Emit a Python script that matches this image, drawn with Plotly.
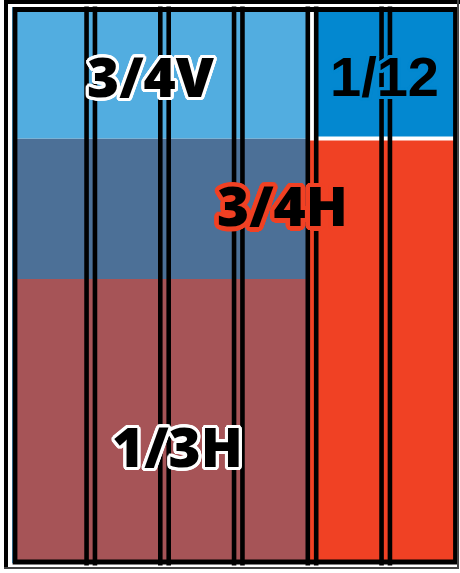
import math
import plotly.graph_objects as go

# ---------------- data ----------------
n_columns = 6
n_rows = 4

region_names = ["1/3H lower", "3/4H band", "3/4V top", "3/4H right", "1/12 top"]
region_col_start = [0, 0, 0, 4, 4]
region_col_span = [4, 4, 4, 2, 2]
region_row_start = [0, 2, 3, 0, 3]
region_row_span = [2, 1, 1, 3, 1]

label_text = ["3/4V", "1/12", "3/4H", "1/3H"]

# ---------------- styles ----------------
region_colors = ["#A65457", "#4C7097", "#52ADE0", "#F04124", "#0388D0"]
region_line_colors = ["#A65457", "#4C7097", "#52ADE0", "#F04124", "#FFFFFF"]
region_line_widths = [0, 0, 0, 4, 4]

label_x = [1.82, 4.98, 3.60, 2.17]
label_y = [3.445, 3.44, 2.53, 0.815]
label_outline = ["#FFFFFF", "#0388D0", "#F04124", "#FFFFFF"]
label_outline_r = [3, 3, 4.5, 3]
label_family = ["Open Sans", "Liberation Sans", "Open Sans", "Open Sans"]
label_size = [55, 56, 55, 55]
label_weight = [800, 700, 800, 800]

W, H = 460, 573
ml, mr, mt, mb = 17, 6, 12, 13
px_per_col = 73.75
px_per_row = 140.5
plot_w = W - ml - mr
plot_h = H - mt - mb


def outline(color, r, n=24):
    parts = []
    for i in range(n):
        a = 2 * math.pi * i / n
        parts.append(f"{color} {r*math.cos(a):.2f}px {r*math.sin(a):.2f}px 0px")
    return ", ".join(parts)


fig = go.Figure()
for i, name in enumerate(region_names):
    fig.add_trace(go.Bar(
        name=name,
        x=[region_col_start[i] + region_col_span[i] / 2],
        y=[region_row_span[i]],
        base=[region_row_start[i]],
        width=[region_col_span[i]],
        marker=dict(color=region_colors[i],
                    line=dict(color=region_line_colors[i], width=region_line_widths[i])),
        hoverinfo="skip",
        showlegend=False,
    ))

shapes = []
# column dividers (double black lines)
d = 4.2 / px_per_col
for k in range(1, n_columns):
    for off in (-d, d):
        shapes.append(dict(type="line", xref="x", yref="paper",
                           x0=k + off, x1=k + off, y0=-0.01, y1=1.01,
                           line=dict(color="black", width=4.6)))


def px2paper_x(p):
    return (p - ml) / plot_w


def px2paper_y(p):
    return (H - mb - p) / plot_h


# thin light-blue sliver at left
shapes.append(dict(type="line", xref="paper", yref="paper",
                   x0=px2paper_x(12.5), x1=px2paper_x(12.5),
                   y0=px2paper_y(7), y1=px2paper_y(563),
                   line=dict(color="#52ADE0", width=1)))
# inner frame
shapes.append(dict(type="rect", xref="paper", yref="paper",
                   x0=px2paper_x(15), x1=px2paper_x(455.5),
                   y0=px2paper_y(562), y1=px2paper_y(9.5),
                   line=dict(color="black", width=4.8)))
# outer frame
shapes.append(dict(type="line", xref="paper", yref="paper",
                   x0=px2paper_x(4), x1=px2paper_x(460), y0=px2paper_y(2), y1=px2paper_y(2),
                   line=dict(color="black", width=4)))
shapes.append(dict(type="line", xref="paper", yref="paper",
                   x0=px2paper_x(6), x1=px2paper_x(6), y0=px2paper_y(0), y1=px2paper_y(569),
                   line=dict(color="black", width=4)))
shapes.append(dict(type="line", xref="paper", yref="paper",
                   x0=px2paper_x(458), x1=px2paper_x(458), y0=px2paper_y(0), y1=px2paper_y(569),
                   line=dict(color="#444444", width=2)))
shapes.append(dict(type="line", xref="paper", yref="paper",
                   x0=px2paper_x(4), x1=px2paper_x(459), y0=px2paper_y(568), y1=px2paper_y(568),
                   line=dict(color="#444444", width=2)))

annotations = []
for i, t in enumerate(label_text):
    annotations.append(dict(
        x=label_x[i], y=label_y[i], xref="x", yref="y", text=t,
        showarrow=False, xanchor="center", yanchor="middle",
        font=dict(family=label_family[i], size=label_size[i], color="black",
                  weight=label_weight[i],
                  shadow=outline(label_outline[i], label_outline_r[i])),
    ))

fig.update_layout(
    width=W, height=H,
    margin=dict(l=ml, r=mr, t=mt, b=mb, pad=0),
    paper_bgcolor="white", plot_bgcolor="white",
    barmode="overlay",
    xaxis=dict(range=[0, plot_w / px_per_col], visible=False, fixedrange=True),
    yaxis=dict(range=[0, plot_h / px_per_row], visible=False, fixedrange=True),
    shapes=shapes,
    annotations=annotations,
    showlegend=False,
)

fig.write_html("out.html",
               config={"displayModeBar": False, "staticPlot": True},
               post_script="document.body.style.margin='0';document.body.style.overflow='hidden';")
